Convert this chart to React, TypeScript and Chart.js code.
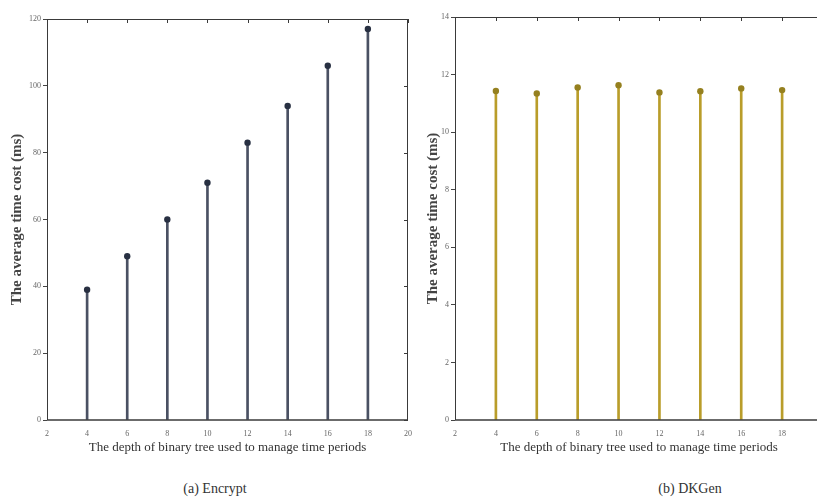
import React, { useEffect, useRef } from "react";
import { Chart, registerables } from "chart.js";
Chart.register(...registerables);

const depths = [4, 6, 8, 10, 12, 14, 16, 18];
const encryptCost = [39, 49, 60, 71, 83, 94, 106, 117];
const dkgenCost = [11.43, 11.34, 11.55, 11.63, 11.38, 11.42, 11.52, 11.46];
const xTickValues = [2, 4, 6, 8, 10, 12, 14, 16, 18, 20];
const xTitle = "The depth of binary tree used to manage time periods";
const yTitle = "The average time cost (ms)";
const captions = ["(a) Encrypt", "(b) DKGen"];

const SERIF = "'Liberation Serif', 'DejaVu Serif', serif";

const boxPlugin = {
  id: "boxPlugin",
  afterDraw(chart: any) {
    const { ctx, chartArea, scales } = chart;
    const { left, right, top, bottom } = chartArea;
    const x = scales.x;
    const y = scales.y;
    ctx.save();
    ctx.strokeStyle = "#3a3a3a";
    ctx.lineWidth = 1;
    ctx.beginPath();
    ctx.moveTo(left + 0.5, top + 0.5);
    ctx.lineTo(right - 0.5, top + 0.5);
    ctx.moveTo(right - 0.5, top);
    ctx.lineTo(right - 0.5, bottom);
    ctx.moveTo(left + 0.5, top);
    ctx.lineTo(left + 0.5, bottom);
    ctx.stroke();
    ctx.beginPath();
    ctx.lineWidth = 1.6;
    ctx.moveTo(left, bottom);
    ctx.lineTo(right, bottom);
    ctx.stroke();
    ctx.lineWidth = 1;
    ctx.beginPath();
    x.ticks.forEach((t: any) => {
      const px = Math.round(x.getPixelForValue(t.value)) + 0.5;
      ctx.moveTo(px, top);
      ctx.lineTo(px, top + 4);
    });
    y.ticks.forEach((t: any) => {
      const py = Math.round(y.getPixelForValue(t.value)) + 0.5;
      ctx.moveTo(right, py);
      ctx.lineTo(right - 4, py);
    });
    ctx.stroke();
    ctx.restore();
  },
};

type PanelProps = {
  values: number[];
  yMax: number;
  yStep: number;
  stemColor: string;
  dotColor: string;
  left: number;
  width: number;
  axisWidth: number;
  padTop: number;
  padRight: number;
  yTitlePad: number;
};

function Panel(p: PanelProps) {
  const ref = useRef<HTMLCanvasElement | null>(null);
  useEffect(() => {
    if (!ref.current) return;
    const pts = depths.map((d, i) => ({ x: d, y: p.values[i] }));
    const chart = new Chart(ref.current, {
      type: "bar",
      data: {
        datasets: [
          {
            type: "bar",
            data: pts as any,
            backgroundColor: p.stemColor,
            borderWidth: 0,
            barThickness: 2,
            order: 2,
          } as any,
          {
            type: "scatter",
            data: pts as any,
            pointRadius: 3.2,
            pointBackgroundColor: p.dotColor,
            pointBorderColor: p.dotColor,
            pointBorderWidth: 0,
            order: 1,
          } as any,
        ],
      },
      options: {
        animation: false,
        responsive: false,
        devicePixelRatio: 1,
        layout: { padding: { top: p.padTop, right: p.padRight, left: 0, bottom: 0 } },
        plugins: { legend: { display: false }, tooltip: { enabled: false } },
        scales: {
          x: {
            type: "linear",
            min: 2,
            max: 20,
            offset: false,
            afterBuildTicks: (s: any) => {
              s.ticks = xTickValues.map((v) => ({ value: v }));
            },
            afterFit: (s: any) => {
              s.height = 40;
            },
            grid: { display: false },
            border: { display: false },
            ticks: {
              font: { family: SERIF, size: 8 },
              color: "#666",
              padding: 1,
              maxRotation: 0,
              autoSkip: false,
            },
            title: {
              display: true,
              text: xTitle,
              font: { family: SERIF, size: 13 },
              color: "#333",
              padding: { top: 0, bottom: 5 },
            },
          },
          y: {
            type: "linear",
            min: 0,
            max: p.yMax,
            afterFit: (s: any) => {
              s.width = p.axisWidth;
            },
            grid: {
              drawOnChartArea: false,
              drawTicks: true,
              tickLength: 4,
              color: "#444",
            },
            border: { display: false },
            ticks: {
              stepSize: p.yStep,
              font: { family: SERIF, size: 8 },
              color: "#666",
              padding: 2,
            },
            title: {
              display: true,
              text: yTitle,
              font: { family: SERIF, size: 15, weight: "bold" },
              color: "#444",
              padding: { top: p.yTitlePad, bottom: 0 },
            },
          },
        },
      },
      plugins: [boxPlugin],
    } as any);
    return () => chart.destroy();
  }, []);
  return (
    <canvas
      ref={ref}
      width={p.width}
      height={460}
      style={{ position: "absolute", left: p.left, top: 0, width: p.width, height: 460 }}
    />
  );
}

export default function App() {
  useEffect(() => {
    document.body.style.margin = "0";
  }, []);
  return (
    <div
      style={{
        position: "absolute",
        left: 0,
        top: 0,
        width: 817,
        height: 499,
        overflow: "hidden",
        background: "#fff",
      }}
    >
      <Panel
        values={encryptCost}
        yMax={120}
        yStep={20}
        stemColor="#4a5163"
        dotColor="#283042"
        left={0}
        width={420}
        axisWidth={47}
        padTop={19}
        padRight={12}
        yTitlePad={8}
      />
      <Panel
        values={dkgenCost}
        yMax={14}
        yStep={2}
        stemColor="#b99d2a"
        dotColor="#95801f"
        left={410}
        width={420}
        axisWidth={45}
        padTop={17}
        padRight={7}
        yTitlePad={14}
      />
      {captions.map((c, i) => (
        <div
          key={c}
          style={{
            position: "absolute",
            left: i === 0 ? 115 : 590,
            width: 200,
            top: 481,
            textAlign: "center",
            fontFamily: SERIF,
            fontSize: 14,
            color: "#333",
          }}
        >
          {c}
        </div>
      ))}
    </div>
  );
}
